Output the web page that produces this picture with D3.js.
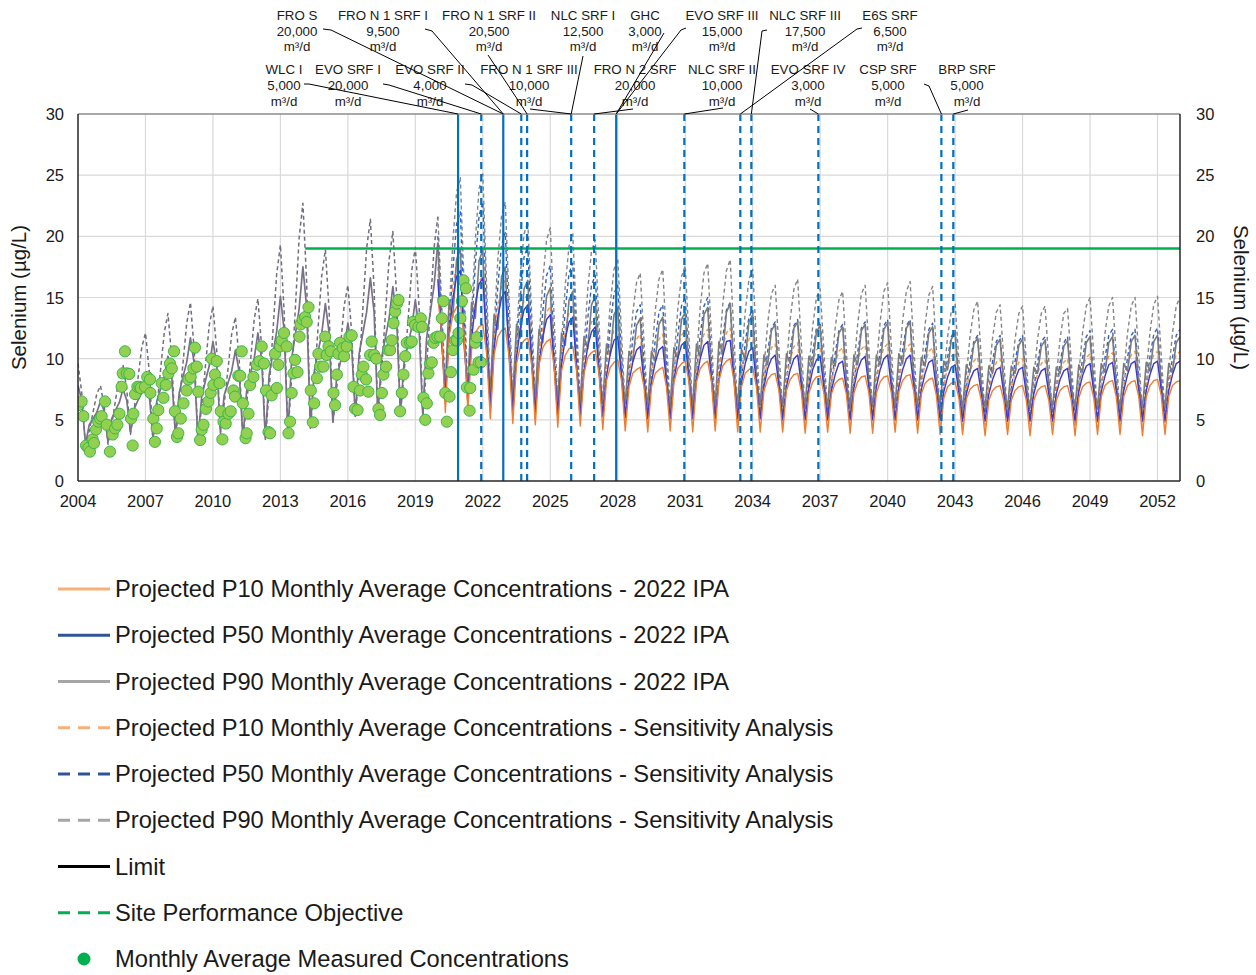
<!DOCTYPE html>
<html><head><meta charset="utf-8">
<script src="https://cdn.jsdelivr.net/npm/d3@7/dist/d3.min.js"></script>
<style>
body{margin:0;background:#fff;}
svg{display:block;font-family:"Liberation Sans",Arial,sans-serif;}
</style></head><body>
<svg id="chart" width="1256" height="975"></svg>
<script>
// ---------------- DATA ----------------
const xTickYears = [2004,2007,2010,2013,2016,2019,2022,2025,2028,2031,2034,2037,2040,2043,2046,2049,2052];
const yTickValues = [0,5,10,15,20,25,30];

// modelled history, values every 2 months from 2004.0
const histStart = 2004;
const histModelSolid = [
7.8,6.6,3.0,4.6,5.1,5.6, 6.5,5.7,3.2,5.1,5.8,6.4, 7.5,6.6,4.0,5.9,6.6,7.2, 8.3,7.1,3.5,6.5,7.5,8.5,
10.2,8.6,3.6,7.2,8.5,9.7, 11.7,9.6,3.3,6.9,8.2,9.4, 11.4,9.6,4.0,7.0,8.0,9.0, 10.7,8.9,3.5,7.4,8.7,10.0,
12.1,9.9,3.4,8.7,10.4,12.2, 15.1,12.3,3.8,10.0,12.0,14.1, 17.5,14.2,4.4,8.9,10.5,12.0, 14.5,12.1,4.8,8.4,9.7,10.9,
12.9,11.0,5.3,10.4,12.1,13.8, 16.6,13.8,5.3,10.1,11.7,13.3, 15.9,13.3,5.5,9.7,11.1,12.5, 14.8,12.4,5.3,11.7,13.8,16.0,
19.5];
const histModelDashed = [
9.6,7.2,2.8,4.1,5.6,7.1, 7.8,6.1,3.0,4.6,6.6,8.5, 9.5,7.5,3.8,5.9,8.4,10.9, 12.1,9.0,3.3,5.9,9.0,12.1,
13.7,10.1,3.5,6.3,9.6,12.9, 14.6,10.7,3.3,6.1,9.4,12.7, 14.3,10.7,3.9,6.3,9.1,12.0, 13.4,9.9,3.4,6.3,9.7,13.2,
14.9,10.9,3.4,7.4,12.2,16.9, 19.3,13.8,3.7,8.5,14.2,19.9, 22.7,16.3,4.3,8.0,12.3,16.7, 18.9,13.9,4.7,7.5,10.9,14.3,
16.0,12.2,5.2,9.3,14.1,19.0, 21.4,15.7,5.2,9.0,13.6,18.1, 20.4,15.2,5.4,8.8,12.9,17.1, 19.1,14.2,5.2,9.3,14.2,19.1,
21.6];

// projections, values every 2 months from 2020.0
const projStart = 2020;
const p10IPA = [
15.0,12.2,5.6,11.8,13.6,14.2, 14.5,11.9,5.8,10.7,12.1,12.6, 12.8,10.5,5.1,10.3,11.8,12.3, 12.5,10.2,4.7,9.6,11.0,11.5,
11.7,9.6,4.6,9.5,10.9,11.4, 11.6,9.4,4.4,9.0,10.3,10.8, 11.0,9.1,4.5,8.8,10.1,10.5, 10.7,8.8,4.2,8.2,9.3,9.7,
9.9,8.2,4.1,7.7,8.8,9.1, 9.3,7.7,4.0,7.7,8.8,9.1, 9.3,7.7,4.1,8.1,9.2,9.6, 9.8,8.1,4.0,8.1,9.2,9.6,
9.8,8.1,4.1,8.2,9.4,9.8, 10.0,8.2,4.0,7.7,8.8,9.1, 9.3,7.7,4.0,7.4,8.3,8.7, 8.8,7.4,4.0,7.4,8.3,8.7,
8.8,7.3,3.9,7.2,8.1,8.5, 8.6,7.2,4.0,7.1,8.0,8.3, 8.4,7.1,3.9,7.2,8.1,8.5, 8.6,7.2,3.9,7.2,8.1,8.5,
8.6,7.2,4.0,7.3,8.2,8.6, 8.7,7.3,3.9,7.1,8.0,8.3, 8.4,7.0,3.8,6.8,7.7,8.0, 8.1,6.8,3.8,6.7,7.5,7.8,
7.9,6.6,3.7,6.6,7.4,7.7, 7.8,6.6,3.8,6.6,7.4,7.7, 7.8,6.6,3.7,6.6,7.4,7.7, 7.8,6.6,3.8,6.6,7.4,7.7,
7.8,6.6,3.7,6.8,7.7,8.0, 8.1,6.8,3.8,6.9,7.8,8.1, 8.2,6.9,3.8,6.9,7.8,8.1, 8.2,6.9,3.7,6.9,7.8,8.2,
8.3,7.0,3.8,6.9,7.8,8.1, 8.2];
const p50IPA = [
16.5,11.7,6.8,12.0,14.9,16.7, 17.2,11.9,6.5,11.6,14.4,16.1, 16.6,11.4,6.1,10.8,13.4,15.0, 15.5,10.7,5.8,10.1,12.5,14.0,
14.4,10.0,5.6,9.6,11.8,13.2, 13.6,9.6,5.5,9.5,11.7,13.0, 13.4,9.4,5.4,9.0,11.0,12.2, 12.6,9.0,5.3,8.6,10.4,11.5,
11.8,8.5,5.2,8.1,9.7,10.7, 11.0,8.1,5.1,8.1,9.7,10.7, 11.0,8.1,5.1,8.3,10.0,11.1, 11.4,8.3,5.1,8.3,10.0,11.1,
11.4,8.3,5.1,8.3,10.2,11.4, 11.5,8.3,5.1,8.0,9.6,10.6, 10.9,8.0,5.1,7.7,9.2,10.0, 10.3,7.7,5.0,7.7,9.1,10.0,
10.3,7.7,5.0,7.6,9.1,9.9, 10.2,7.6,5.0,7.4,8.7,9.6, 9.8,7.4,5.0,7.6,9.1,9.9, 10.2,7.6,5.0,7.7,9.1,10.0,
10.3,7.7,5.0,7.7,9.1,10.0, 10.3,7.7,5.0,7.5,8.8,9.7, 9.9,7.5,5.0,7.3,8.5,9.3, 9.5,7.2,4.9,7.1,8.3,9.0,
9.2,7.1,4.9,7.1,8.3,9.1, 9.3,7.1,4.9,7.1,8.3,9.1, 9.3,7.1,4.9,7.1,8.3,9.0, 9.2,7.1,4.9,7.1,8.3,9.0,
9.2,7.1,4.9,7.3,8.6,9.4, 9.6,7.3,4.9,7.3,8.6,9.5, 9.7,7.3,4.9,7.4,8.7,9.6, 9.8,7.4,4.9,7.4,8.7,9.6,
9.8,7.4,4.9,7.4,8.7,9.6, 9.8];
const p90IPA = [
19.5,11.3,7.8,14.7,13.4,18.1, 19.0,11.0,7.6,14.6,13.3,18.0, 18.9,10.8,7.3,13.6,12.4,16.7, 17.5,10.2,7.0,12.8,11.7,15.7,
16.4,9.7,6.8,12.4,11.3,15.1, 15.8,9.4,6.6,12.1,11.1,14.8, 15.5,9.2,6.5,11.8,10.8,14.4, 15.1,9.0,6.4,11.2,10.3,13.6,
14.2,8.7,6.3,10.6,9.8,12.7, 13.3,8.3,6.2,10.6,9.8,12.8, 13.4,8.4,6.2,10.9,10.0,13.2, 13.8,8.5,6.2,11.2,10.2,13.6,
14.2,8.6,6.2,11.4,10.4,13.8, 14.5,8.7,6.2,10.8,9.9,13.0, 13.6,8.4,6.2,10.3,9.5,12.3, 12.8,8.1,6.1,10.4,9.6,12.5,
13.0,8.2,6.1,10.2,9.4,12.2, 12.7,8.1,6.1,10.1,9.4,12.1, 12.6,8.1,6.1,10.3,9.5,12.3, 12.8,8.1,6.1,10.3,9.5,12.4,
12.9,8.1,6.1,10.4,9.6,12.5, 13.0,8.2,6.1,10.1,9.4,12.1, 12.6,8.1,6.1,9.8,9.1,11.6, 12.1,7.8,6.0,9.5,8.9,11.2,
11.7,7.7,6.0,9.4,8.8,11.1, 11.6,7.7,6.0,9.4,8.8,11.1, 11.6,7.7,6.0,9.3,8.8,11.0, 11.5,7.7,6.0,9.3,8.8,11.0,
11.5,7.7,6.0,9.5,8.9,11.3, 11.8,7.7,6.0,9.6,8.9,11.3, 11.8,7.7,6.0,9.6,9.0,11.4, 11.9,7.8,6.0,9.7,9.0,11.4,
11.9,7.8,6.0,9.6,8.9,11.3, 11.8];
const p10Sens = [
17.5,11.9,6.2,12.9,15.9,17.7, 18.3,12.2,6.0,11.9,14.6,16.3, 16.8,11.2,5.6,11.5,14.2,15.9, 16.4,10.9,5.3,10.8,13.3,14.8,
15.3,10.2,5.1,10.2,12.5,13.8, 14.3,9.7,5.0,10.1,12.4,13.8, 14.3,9.6,4.9,9.6,11.7,13.0, 13.4,9.1,4.8,9.2,11.2,12.4,
12.8,8.8,4.7,8.7,10.5,11.6, 12.0,8.3,4.6,8.7,10.5,11.6, 12.0,8.3,4.6,8.8,10.8,11.9, 12.3,8.5,4.6,8.9,10.8,12.0,
12.4,8.5,4.6,9.0,10.9,12.1, 12.5,8.6,4.6,8.7,10.5,11.6, 12.0,8.3,4.6,8.2,9.9,10.9, 11.2,7.9,4.5,8.2,9.9,11.0,
11.3,7.9,4.5,8.1,9.7,10.7, 11.0,7.8,4.5,8.0,9.6,10.6, 10.9,7.7,4.5,8.1,9.8,10.8, 11.1,7.8,4.5,8.2,9.9,10.9,
11.2,7.9,4.5,8.2,9.9,10.9, 11.2,7.9,4.5,8.0,9.6,10.6, 10.9,7.7,4.5,7.8,9.3,10.2, 10.5,7.5,4.4,7.5,9.0,9.8,
10.1,7.3,4.4,7.5,8.9,9.7, 10.0,7.2,4.4,7.5,8.9,9.7, 10.0,7.2,4.4,7.4,8.8,9.6, 9.9,7.2,4.4,7.5,8.9,9.7,
10.0,7.2,4.4,7.7,9.2,10.1, 10.4,7.4,4.4,7.8,9.3,10.2, 10.5,7.5,4.4,7.8,9.4,10.3, 10.6,7.5,4.4,7.8,9.4,10.3,
10.6,7.5,4.4,7.8,9.4,10.3, 10.6];
const p50Sens = [
20.0,12.9,7.0,12.3,17.2,21.0, 22.0,13.6,6.8,12.4,17.7,21.7, 22.8,13.8,6.5,11.3,15.9,19.3, 20.3,12.5,6.2,10.8,15.0,18.3,
19.2,11.9,6.0,10.1,13.9,16.8, 17.6,11.1,5.8,10.0,14.0,17.0, 17.8,11.2,5.7,9.6,13.3,16.0, 16.8,10.6,5.6,9.2,12.7,15.3,
16.0,10.2,5.5,8.6,11.6,13.8, 14.4,9.5,5.4,8.6,11.5,13.8, 14.4,9.5,5.4,8.8,11.9,14.3, 15.0,9.7,5.4,8.8,11.9,14.3,
15.0,9.7,5.4,8.6,11.7,14.0, 14.6,9.5,5.4,8.4,11.3,13.4, 14.0,9.3,5.4,8.1,10.6,12.5, 13.0,8.8,5.3,8.1,10.7,12.7,
13.2,8.9,5.3,8.0,10.5,12.5, 13.0,8.8,5.3,7.9,10.4,12.3, 12.8,8.7,5.3,8.0,10.5,12.5, 13.0,8.8,5.3,8.1,10.7,12.7,
13.2,8.9,5.3,8.1,10.7,12.7, 13.2,8.9,5.3,8.0,10.5,12.4, 12.9,8.7,5.3,7.8,10.1,11.8, 12.3,8.4,5.2,7.6,9.8,11.4,
11.9,8.2,5.2,7.5,9.8,11.4, 11.9,8.2,5.2,7.5,9.8,11.4, 11.9,8.2,5.2,7.5,9.7,11.4, 11.8,8.2,5.2,7.5,9.7,11.3,
11.8,8.2,5.2,7.6,10.0,11.8, 12.3,8.4,5.2,7.7,10.1,11.9, 12.4,8.4,5.2,7.7,10.1,11.9, 12.4,8.4,5.2,7.7,10.2,12.0,
12.5,8.5,5.2,7.7,10.1,11.9, 12.4];
const p90Sens = [
21.6,14.6,7.5,13.6,19.6,23.6, 24.8,16.0,7.2,13.5,19.7,23.9, 25.1,16.1,7.0,12.5,18.1,21.7, 22.8,14.8,6.8,11.8,16.9,20.2,
21.2,13.9,6.5,11.5,16.4,19.7, 20.7,13.5,6.3,11.2,16.0,19.2, 20.2,13.2,6.2,10.9,15.7,18.8, 19.7,12.9,6.0,10.3,14.5,17.3,
18.2,12.1,5.9,9.8,13.7,16.2, 17.0,11.4,5.8,9.8,13.9,16.5, 17.3,11.6,5.8,9.9,14.0,16.7, 17.6,11.7,5.7,9.9,14.2,17.0,
17.8,11.8,5.7,10.0,14.4,17.2, 18.1,11.9,5.6,9.7,13.8,16.5, 17.3,11.5,5.6,9.2,12.9,15.3, 16.0,10.8,5.5,9.4,13.2,15.7,
16.5,11.0,5.5,9.1,12.6,15.0, 15.7,10.6,5.5,9.0,12.5,14.8, 15.5,10.5,5.4,9.1,12.8,15.3, 16.0,10.8,5.5,9.3,13.0,15.5,
16.2,10.9,5.5,9.3,13.1,15.5, 16.3,10.9,5.5,9.1,12.8,15.2, 15.9,10.7,5.4,8.6,11.8,13.9, 14.5,9.9,5.3,8.6,11.9,14.0,
14.7,10.0,5.3,8.5,11.7,13.8, 14.4,9.8,5.2,8.4,11.6,13.7, 14.3,9.8,5.2,8.4,11.6,13.7, 14.3,9.8,5.3,8.5,11.6,13.7,
14.1,9.7,5.3,8.7,12.1,14.3, 15.0,10.2,5.4,8.8,12.1,14.3, 15.0,10.2,5.4,8.8,12.1,14.3, 15.0,10.2,5.4,8.8,12.2,14.4,
15.1,10.3,5.4,8.8,12.1,14.3, 15.0];

// monthly average measured concentrations [decimal year, µg/L]
const measured = [
[2004.01,6.2],[2004.16,6.5],[2004.24,5.3],[2004.36,2.9],[2004.46,2.7],[2004.53,2.4],[2004.65,3.4],[2004.71,3.1],[2004.80,4.2],[2004.90,4.85],
[2004.98,5.1],[2005.05,5.3],[2005.20,6.5],[2005.28,4.6],[2005.42,2.4],[2005.54,3.8],[2005.65,4.3],[2005.75,4.6],[2005.84,5.5],[2005.94,7.7],
[2005.99,8.8],[2006.09,10.6],[2006.17,8.8],[2006.28,8.75],[2006.36,5.1],[2006.43,2.9],[2006.46,5.5],[2006.54,7.1],[2006.64,7.7],[2006.73,7.7],
[2006.79,7.6],[2006.98,7.7],[2007.08,8.5],[2007.20,8.3],[2007.22,7.2],[2007.35,5.1],[2007.42,3.2],[2007.50,4.3],[2007.57,5.8],[2007.72,8.0],
[2007.80,6.8],[2007.91,7.85],[2008.02,8.8],[2008.09,9.6],[2008.17,9.2],[2008.27,10.6],[2008.31,5.7],[2008.40,3.6],[2008.46,3.9],[2008.57,5.1],
[2008.69,6.35],[2008.83,7.4],[2008.91,8.3],[2009.01,8.5],[2009.13,9.2],[2009.20,10.9],[2009.28,9.35],[2009.35,7.3],[2009.43,3.35],[2009.50,4.2],
[2009.58,4.6],[2009.69,5.9],[2009.80,6.5],[2009.90,7.2],[2009.95,10.0],[2010.02,7.85],[2010.09,8.7],[2010.17,9.8],[2010.29,8.0],[2010.35,5.7],
[2010.42,3.4],[2010.47,4.85],[2010.57,4.7],[2010.69,5.5],[2010.79,5.7],[2010.91,7.4],[2010.98,6.9],[2011.13,8.6],[2011.21,8.6],[2011.28,10.6],
[2011.33,6.35],[2011.45,3.5],[2011.50,3.9],[2011.58,5.5],[2011.65,7.85],[2011.80,8.5],[2011.95,9.5],[2012.07,9.8],[2012.17,11.0],[2012.27,9.6],
[2012.36,7.4],[2012.47,4.0],[2012.54,3.9],[2012.61,7.0],[2012.76,10.4],[2012.84,7.6],[2012.91,9.5],[2012.99,11.0],[2013.06,11.5],[2013.16,12.1],
[2013.28,11.0],[2013.36,3.9],[2013.43,4.85],[2013.50,7.2],[2013.58,8.8],[2013.65,9.9],[2013.76,8.9],[2013.85,11.8],[2013.90,12.8],[2013.99,13.2],
[2014.10,13.4],[2014.17,13.0],[2014.25,14.2],[2014.35,7.4],[2014.44,4.8],[2014.50,6.35],[2014.62,8.4],[2014.69,10.4],[2014.77,9.35],[2014.91,9.35],
[2014.99,11.8],[2015.06,10.3],[2015.14,11.0],[2015.24,10.6],[2015.36,7.2],[2015.43,6.2],[2015.51,8.7],[2015.58,10.4],[2015.65,11.3],[2015.77,10.85],
[2015.83,10.2],[2015.95,11.0],[2016.07,11.8],[2016.17,11.9],[2016.25,7.7],[2016.32,5.9],[2016.43,5.8],[2016.54,7.4],[2016.62,8.7],[2016.69,9.35],
[2016.81,8.3],[2016.91,7.3],[2016.99,10.3],[2017.06,11.4],[2017.17,10.3],[2017.26,10.0],[2017.36,5.9],[2017.43,5.4],[2017.51,7.2],[2017.58,8.7],
[2017.70,9.35],[2017.80,10.7],[2017.88,10.7],[2017.95,11.5],[2018.03,12.9],[2018.10,13.85],[2018.18,14.5],[2018.25,14.8],[2018.32,5.7],[2018.40,7.2],
[2018.47,8.7],[2018.55,10.2],[2018.62,11.3],[2018.77,11.3],[2018.84,11.4],[2018.89,13.0],[2018.99,12.75],[2019.14,12.6],[2019.24,13.3],[2019.29,12.6],
[2019.36,6.8],[2019.44,5.0],[2019.51,6.35],[2019.58,8.8],[2019.66,9.6],[2019.73,9.7],[2019.81,11.3],[2019.88,11.7],[2019.98,11.8],[2020.10,11.8],
[2020.18,13.3],[2020.25,14.7],[2020.33,7.2],[2020.40,4.85],[2020.52,6.9],[2020.58,8.9],[2020.67,10.7],[2020.77,11.5],[2020.85,11.5],[2020.92,12.1],
[2021.00,13.3],[2021.07,14.7],[2021.14,16.4],[2021.25,15.75],[2021.29,7.65],[2021.41,5.75],[2021.44,7.6],[2021.59,9.1],[2021.66,11.3],[2021.73,11.75],
[2021.81,9.7],[2021.91,9.7]];

// Site Performance Objective
const spoValue = 19;
const spoStart = 2014.1;

// water treatment (SRF) start dates
const solidLineDates = [2020.90, 2022.91, 2027.93];
const dashedLineDates = [2021.93, 2023.71, 2023.97, 2025.93, 2026.95, 2030.96, 2033.45, 2033.94, 2036.92, 2042.39, 2042.92];
const srfNames = ["WLC I","EVO SRF I","FRO S","FRO N 1 SRF I","EVO SRF II","FRO N 1 SRF II","FRO N 1 SRF III","NLC SRF I","FRO N 2 SRF","GHC","EVO SRF III","NLC SRF II","E6S SRF","NLC SRF III","EVO SRF IV","CSP SRF","BRP SRF"];
const srfRates = ["5,000","20,000","20,000","9,500","4,000","20,500","10,000","12,500","20,000","3,000","15,000","10,000","6,500","17,500","3,000","5,000","5,000"];
const srfDates = [2020.90,2021.93,2022.91,2022.91,2023.71,2023.97,2025.93,2025.93,2026.95,2027.93,2027.93,2030.96,2033.45,2033.94,2036.92,2042.39,2042.92];

const legendLabels = [
"Projected P10 Monthly Average Concentrations - 2022 IPA",
"Projected P50 Monthly Average Concentrations - 2022 IPA",
"Projected P90 Monthly Average Concentrations - 2022 IPA",
"Projected P10 Monthly Average Concentrations - Sensitivity Analysis",
"Projected P50 Monthly Average Concentrations - Sensitivity Analysis",
"Projected P90 Monthly Average Concentrations - Sensitivity Analysis",
"Limit",
"Site Performance Objective",
"Monthly Average Measured Concentrations"];

// ---------------- LAYOUT / STYLE ----------------
const svg = d3.select("#chart");
const L = 78, R = 1180, T = 114, B = 481;
const x = d3.scaleLinear().domain([2004, 2053]).range([L, R]);
const y = d3.scaleLinear().domain([0, 30]).range([B, T]);
const textCol = "#1a1a1a";

const labelLayout = [
 {cx:284,row:1,pts:[[304,84],[309,84]]},
 {cx:348,row:1,pts:[[383,84],[389,85]]},
 {cx:297,row:0,pts:[[323,29],[331,30]]},
 {cx:383,row:0,pts:[[425,29],[432,31]]},
 {cx:430,row:1,pts:[[465,84],[472,85]]},
 {cx:489,row:0,pts:[[488,55]]},
 {cx:529,row:1,pts:[[530,109]]},
 {cx:583,row:0,pts:[[583,56]]},
 {cx:635,row:1,pts:[[633,109]]},
 {cx:645,row:0,pts:[[664,33]]},
 {cx:722,row:0,pts:[[686,28],[681,30]]},
 {cx:722,row:1,pts:[[723,108]]},
 {cx:890,row:0,pts:[[862,28],[857,29]]},
 {cx:805,row:0,pts:[[767,30],[762,31]]},
 {cx:808,row:1,pts:[[810,109]]},
 {cx:888,row:1,pts:[[924,84],[929,86]]},
 {cx:967,row:1,pts:[[968,110]]}
];
const rowBase = [[20,35.5,51],[74,90,105.5]];

// gridlines
const g = svg.append("g");
g.selectAll(".vg").data(xTickYears.filter(v => v !== 2004)).enter().append("line")
 .attr("x1", d => x(d)).attr("x2", d => x(d)).attr("y1", T).attr("y2", B)
 .attr("stroke", "#d9d9d9").attr("stroke-width", 1.2);
g.selectAll(".hg").data(yTickValues.filter(v => v > 0 && v < 30)).enter().append("line")
 .attr("x1", L).attr("x2", R).attr("y1", d => y(d)).attr("y2", d => y(d))
 .attr("stroke", "#d9d9d9").attr("stroke-width", 1.2);

svg.append("clipPath").attr("id", "plotclip").append("rect")
 .attr("x", L).attr("y", T - 2).attr("width", R - L).attr("height", B - T + 2);
const plot = svg.append("g").attr("clip-path", "url(#plotclip)");

const toPts = (start, arr) => arr.map((v, i) => [start + i / 6, v]);
const line = d3.line().x(d => x(d[0])).y(d => y(d[1]));

const seriesDraw = [
 {data: toPts(projStart, p90Sens), color: "#858585", w: 1.4, dash: "4,3"},
 {data: toPts(projStart, p50Sens), color: "#2f62c4", w: 1.4, dash: "4,3"},
 {data: toPts(projStart, p10Sens), color: "#f29650", w: 1.4, dash: "4,3"},
 {data: toPts(projStart, p90IPA), color: "#7b7b7b", w: 1.6, dash: null},
 {data: toPts(projStart, p50IPA), color: "#3a3ad2", w: 1.4, dash: null},
 {data: toPts(projStart, p10IPA), color: "#ee7d31", w: 1.4, dash: null},
 {data: toPts(histStart, histModelDashed), color: "#6e6e7c", w: 1.5, dash: "4,3"},
 {data: toPts(histStart, histModelSolid), color: "#797089", w: 1.7, dash: null}
];
seriesDraw.forEach(s => {
 plot.append("path").datum(s.data).attr("d", line).attr("fill", "none")
  .attr("stroke", s.color).attr("stroke-width", s.w)
  .attr("stroke-dasharray", s.dash).attr("stroke-linejoin", "round");
});

plot.selectAll(".dot").data(measured).enter().append("circle")
 .attr("cx", d => x(d[0])).attr("cy", d => y(d[1])).attr("r", 5.6)
 .attr("fill", "#92d050").attr("stroke", "#3db54a").attr("stroke-width", 1);

plot.append("line").attr("x1", x(spoStart)).attr("x2", x(2053))
 .attr("y1", y(spoValue)).attr("y2", y(spoValue))
 .attr("stroke", "#00b050").attr("stroke-width", 2.5);

svg.selectAll(".vs").data(solidLineDates).enter().append("line")
 .attr("x1", d => x(d)).attr("x2", d => x(d)).attr("y1", T).attr("y2", B)
 .attr("stroke", "#0070c0").attr("stroke-width", 2.2);
svg.selectAll(".vd").data(dashedLineDates).enter().append("line")
 .attr("x1", d => x(d)).attr("x2", d => x(d)).attr("y1", T).attr("y2", B)
 .attr("stroke", "#0070c0").attr("stroke-width", 2.2).attr("stroke-dasharray", "7,5");

svg.append("line").attr("x1", L).attr("x2", R).attr("y1", T).attr("y2", T).attr("stroke", "#8c8c8c").attr("stroke-width", 1.5);
svg.append("line").attr("x1", L).attr("x2", L).attr("y1", T).attr("y2", B).attr("stroke", "#262626").attr("stroke-width", 1.5);
svg.append("line").attr("x1", R).attr("x2", R).attr("y1", T).attr("y2", B).attr("stroke", "#262626").attr("stroke-width", 1.5);
svg.append("line").attr("x1", L).attr("x2", R).attr("y1", B).attr("y2", B).attr("stroke", "#262626").attr("stroke-width", 1.5);

const fs = "16.5px";
svg.selectAll(".xt").data(xTickYears).enter().append("text")
 .attr("x", d => x(d)).attr("y", B + 26).attr("text-anchor", "middle")
 .attr("font-size", fs).attr("fill", textCol).text(d => d);
svg.selectAll(".yl").data(yTickValues).enter().append("text")
 .attr("x", L - 14).attr("y", d => y(d) + 6).attr("text-anchor", "end")
 .attr("font-size", fs).attr("fill", textCol).text(d => d);
svg.selectAll(".yr").data(yTickValues).enter().append("text")
 .attr("x", R + 16).attr("y", d => y(d) + 6).attr("text-anchor", "start")
 .attr("font-size", fs).attr("fill", textCol).text(d => d);
svg.append("text").attr("transform", `translate(26,${(T + B) / 2}) rotate(-90)`)
 .attr("text-anchor", "middle").attr("font-size", "20.5px").attr("fill", textCol).text("Selenium (µg/L)");
svg.append("text").attr("transform", `translate(1234,${(T + B) / 2}) rotate(90)`)
 .attr("text-anchor", "middle").attr("font-size", "20.5px").attr("fill", textCol).text("Selenium (µg/L)");

const lab = svg.append("g").attr("font-size", "13.3px").attr("fill", textCol).attr("text-anchor", "middle");
srfNames.forEach((name, i) => {
 const lay = labelLayout[i];
 const base = rowBase[lay.row];
 [name, srfRates[i], "m³/d"].forEach((t, j) => {
  lab.append("text").attr("x", lay.cx).attr("y", base[j]).text(t);
 });
 const pts = lay.pts.concat([[x(srfDates[i]), T]]);
 svg.append("path").attr("d", d3.line()(pts)).attr("fill", "none")
  .attr("stroke", "#000").attr("stroke-width", 1);
});

const legendStyles = [
 {c: "#f7b07a", dash: null}, {c: "#2f5597", dash: null}, {c: "#a6a6a6", dash: null},
 {c: "#f7b07a", dash: "12,8"}, {c: "#2f5597", dash: "12,8"}, {c: "#a6a6a6", dash: "12,8"},
 {c: "#000000", dash: null}, {c: "#00b050", dash: "12,8"}, {c: "#00b050", dot: true}
];
const leg = svg.append("g");
legendLabels.forEach((t, i) => {
 const cy = 589 + i * 46.25;
 const st = legendStyles[i];
 if (st.dot) {
  leg.append("circle").attr("cx", 84).attr("cy", cy).attr("r", 6.5).attr("fill", st.c);
 } else {
  leg.append("line").attr("x1", 58).attr("x2", 110).attr("y1", cy).attr("y2", cy)
   .attr("stroke", st.c).attr("stroke-width", 3).attr("stroke-dasharray", st.dash);
 }
 leg.append("text").attr("x", 115).attr("y", cy + 8).attr("font-size", "23.7px")
  .attr("fill", textCol).text(t);
});
</script>
</body></html>
